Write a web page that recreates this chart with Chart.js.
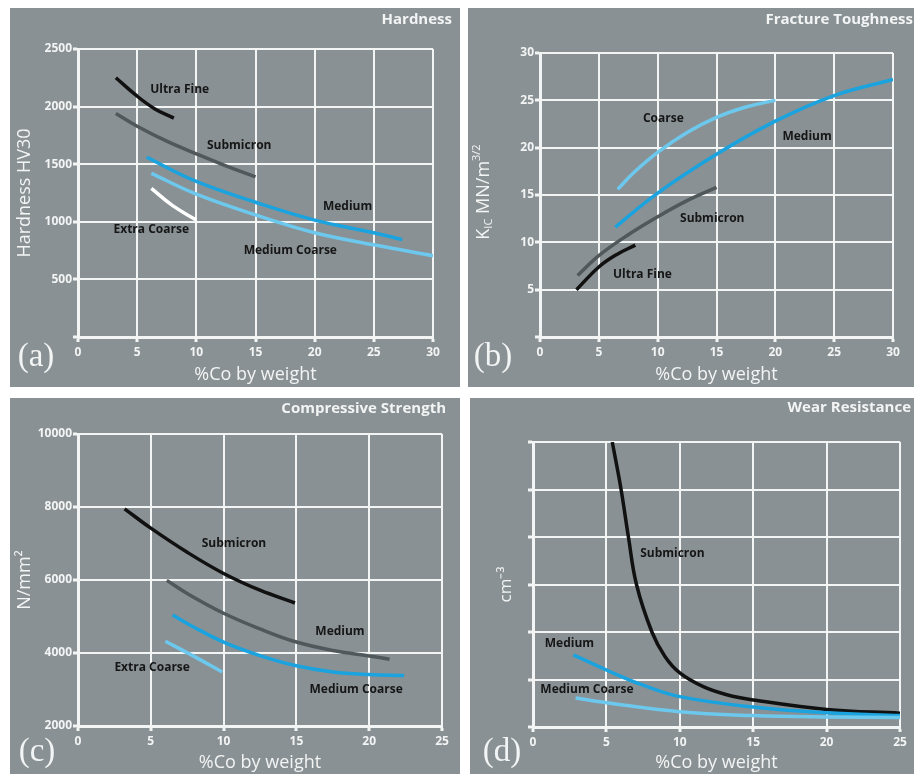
<!DOCTYPE html>
<html>
<head>
<meta charset="utf-8">
<script src="https://cdn.jsdelivr.net/npm/chart.js@4.4.1/dist/chart.umd.min.js"></script>
<style>
    body { margin: 0; background: #fff; width: 914px; height: 774px; position: relative; overflow: hidden; }
    .panel { position: absolute; background: #899194; }
    .panel canvas { display: block; }
</style>
</head>
<body>
<div class="panel" style="left:10px;top:8px;width:450px;height:379px"><canvas id="graficoDureza" width="450" height="379"></canvas></div>
<div class="panel" style="left:468px;top:8px;width:446px;height:379px"><canvas id="graficoTenacidad" width="446" height="379"></canvas></div>
<div class="panel" style="left:10px;top:398px;width:450px;height:376px"><canvas id="graficoCompresion" width="450" height="376"></canvas></div>
<div class="panel" style="left:470px;top:398px;width:444px;height:376px"><canvas id="graficoDesgaste" width="444" height="376"></canvas></div>
<script>
// (a) Hardness HV30
const durezaUltraFineX = [3.2, 5, 6.5, 8.1];
const durezaUltraFineY = [2250, 2090, 1980, 1900];
const durezaSubmicronX = [3.2, 5, 7.5, 10, 12.5, 15];
const durezaSubmicronY = [1940, 1830, 1700, 1590, 1485, 1390];
const durezaMediumX = [5.8, 10, 15, 20, 25, 27.4];
const durezaMediumY = [1560, 1350, 1170, 1015, 905, 845];
const durezaMedCoarseX = [6.2, 10, 15, 20, 25, 30];
const durezaMedCoarseY = [1420, 1240, 1060, 905, 800, 705];
const durezaExtraCoarseX = [6.2, 8, 10];
const durezaExtraCoarseY = [1290, 1140, 1015];

// (b) Fracture Toughness
const tenacidadCoarseX = [6.6, 8, 10, 12.5, 15, 17.5, 20];
const tenacidadCoarseY = [15.6, 17.4, 19.5, 21.6, 23.2, 24.3, 25];
const tenacidadMediumX = [6.4, 10, 15, 20, 25, 30];
const tenacidadMediumY = [11.6, 15.2, 19.3, 22.8, 25.5, 27.2];
const tenacidadSubmicronX = [3.2, 5, 7.5, 10, 12.5, 15];
const tenacidadSubmicronY = [6.5, 8.6, 10.8, 12.7, 14.4, 15.8];
const tenacidadUltraFineX = [3.1, 5, 6.5, 8.1];
const tenacidadUltraFineY = [5, 7.4, 8.7, 9.7];

// (c) Compressive Strength
const compresionSubmicronX = [3.2, 5, 7.5, 10, 12.5, 14.9];
const compresionSubmicronY = [7950, 7420, 6760, 6180, 5720, 5370];
const compresionMediumX = [6.1, 7.5, 10, 12.5, 15, 17.5, 20, 21.4];
const compresionMediumY = [5990, 5630, 5090, 4660, 4300, 4070, 3920, 3830];
const compresionMedCoarseX = [6.5, 8, 10, 12.5, 15, 17.5, 20, 22.4];
const compresionMedCoarseY = [5040, 4700, 4300, 3930, 3650, 3480, 3410, 3385];
const compresionExtraCoarseX = [6, 8, 9.9];
const compresionExtraCoarseY = [4320, 3900, 3480];

// (d) Wear Resistance
const desgasteSubmicronX = [5.4, 6, 6.5, 7.05, 8.1, 9, 10, 11.6, 13.2, 15, 20, 25];
const desgasteSubmicronY = [6, 5, 4, 3, 2, 1.48, 1.14, 0.85, 0.68, 0.57, 0.37, 0.29];
const desgasteMediumX = [2.75, 5, 7.5, 10, 15, 20, 25];
const desgasteMediumY = [1.52, 1.2, 0.88, 0.64, 0.42, 0.3, 0.24];
const desgasteMedCoarseX = [2.9, 5, 10, 15, 20, 25];
const desgasteMedCoarseY = [0.61, 0.51, 0.32, 0.24, 0.21, 0.2];

const BLANCO = '#f3f4f4';
const AZUL = '#1aa3de';
const CELESTE = '#6dc8ee';
const NEGRO = '#111111';
const GRIS_OSCURO = '#51585b';

// Convierte dos listas en puntos {x, y}
function serie(xs, ys, color) {
    return {
        data: xs.map((x, i) => ({ x: x, y: ys[i] })),
        borderColor: color,
        borderWidth: 3.5,
        pointRadius: 0,
        tension: 0.4, // curva suave
        fill: false
    };
}

// Textos: etiquetas de curvas, titulo del panel y letra
const pluginTextos = {
    id: 'textos',
    afterDatasetsDraw(chart, args, opts) {
        const ctx = chart.ctx;
        const sx = chart.scales.x;
        const sy = chart.scales.y;
        ctx.save();
        ctx.fillStyle = '#161616';
        ctx.font = 'bold 12px "Open Sans"';
        ctx.textAlign = 'left';
        ctx.textBaseline = 'middle';
        opts.etiquetas.forEach(e => {
            ctx.fillText(e.texto, sx.getPixelForValue(e.x), sy.getPixelForValue(e.y));
        });

        ctx.fillStyle = BLANCO;
        ctx.font = 'bold 15px "Open Sans"';
        ctx.textAlign = 'right';
        ctx.fillText(opts.titulo, opts.tituloX, opts.tituloY);

        ctx.font = '33px "Liberation Serif"';
        ctx.textAlign = 'center';
        ctx.fillText(opts.letra, opts.letraX, opts.letraY);

        // K_IC MN/m^3/2 con subindice y superindice
        if (opts.ejeRico) {
            const partes = [
                { t: 'K', f: '18px "Open Sans"', dy: 0 },
                { t: 'IC', f: '11px "Open Sans"', dy: 5 },
                { t: ' MN/m', f: '18px "Open Sans"', dy: 0 },
                { t: '3/2', f: '11px "Open Sans"', dy: -7 }
            ];
            let total = 0;
            partes.forEach(p => { ctx.font = p.f; p.w = ctx.measureText(p.t).width; total += p.w; });
            ctx.translate(opts.ejeRico.x, opts.ejeRico.y);
            ctx.rotate(-Math.PI / 2);
            ctx.textAlign = 'left';
            let pos = -total / 2;
            partes.forEach(p => {
                ctx.font = p.f;
                ctx.fillText(p.t, pos, p.dy);
                pos += p.w;
            });
        }
        ctx.restore();
    }
};

function crearPanel(id, cfg) {
    const fuenteTicks = { family: 'Open Sans', weight: 'bold', size: 12 };
    const ctx = document.getElementById(id).getContext('2d');
    return new Chart(ctx, {
        type: 'line',
        data: { datasets: cfg.series },
        options: {
            responsive: false,
            animation: false,
            events: [],
            layout: { padding: { left: 0, top: cfg.area.top, right: cfg.area.right, bottom: 0 } },
            scales: {
                x: {
                    type: 'linear',
                    min: 0,
                    max: cfg.xMax,
                    ticks: { stepSize: 5, color: BLANCO, font: fuenteTicks, padding: 3, maxRotation: 0 },
                    grid: { color: BLANCO, lineWidth: 2, tickLength: 5, tickWidth: 3, tickColor: BLANCO },
                    border: { color: BLANCO, width: 3 },
                    title: {
                        display: true,
                        text: '%Co by weight',
                        color: BLANCO,
                        font: { family: 'Open Sans', size: 18 },
                        padding: { top: 0, bottom: cfg.xTituloPad }
                    },
                    afterFit: s => { s.height = cfg.area.bottom; }
                },
                y: {
                    type: 'linear',
                    min: cfg.yMin,
                    max: cfg.yMax,
                    ticks: {
                        stepSize: cfg.yStep,
                        color: BLANCO,
                        font: fuenteTicks,
                        padding: 1,
                        callback: cfg.yEtiqueta
                    },
                    grid: { color: BLANCO, lineWidth: 2, tickLength: 5, tickWidth: 3, tickColor: BLANCO },
                    border: { color: BLANCO, width: 3 },
                    title: {
                        display: !!cfg.yTitulo,
                        text: cfg.yTitulo || '',
                        color: BLANCO,
                        font: { family: 'Open Sans', size: cfg.yTituloSize || 18 },
                        padding: { top: cfg.yTituloPad, bottom: 0 }
                    },
                    afterFit: s => { s.width = cfg.area.left; }
                }
            },
            plugins: {
                legend: { display: false },
                tooltip: { enabled: false },
                textos: cfg.textos
            }
        },
        plugins: [pluginTextos]
    });
}

document.addEventListener('DOMContentLoaded', function() {
    crearPanel('graficoDureza', {
        series: [
            serie(durezaMedCoarseX, durezaMedCoarseY, CELESTE),
            serie(durezaMediumX, durezaMediumY, AZUL),
            serie(durezaExtraCoarseX, durezaExtraCoarseY, '#ffffff'),
            serie(durezaSubmicronX, durezaSubmicronY, GRIS_OSCURO),
            serie(durezaUltraFineX, durezaUltraFineY, NEGRO)
        ],
        area: { left: 68, top: 41, right: 27, bottom: 50 },
        xMax: 30, yMin: 0, yMax: 2500, yStep: 500,
        yEtiqueta: v => v === 0 ? '' : String(v),
        yTitulo: 'Hardness HV30', yTituloPad: 4, xTituloPad: 1,
        textos: {
            titulo: 'Hardness', tituloX: 442, tituloY: 12,
            letra: '(a)', letraX: 26, letraY: 349,
            etiquetas: [
                { texto: 'Ultra Fine', x: 6.1, y: 2150 },
                { texto: 'Submicron', x: 10.9, y: 1660 },
                { texto: 'Medium', x: 20.7, y: 1128 },
                { texto: 'Extra Coarse', x: 3.0, y: 929 },
                { texto: 'Medium Coarse', x: 14.0, y: 747 }
            ]
        }
    });

    crearPanel('graficoTenacidad', {
        series: [
            serie(tenacidadCoarseX, tenacidadCoarseY, CELESTE),
            serie(tenacidadMediumX, tenacidadMediumY, AZUL),
            serie(tenacidadSubmicronX, tenacidadSubmicronY, GRIS_OSCURO),
            serie(tenacidadUltraFineX, tenacidadUltraFineY, NEGRO)
        ],
        area: { left: 72, top: 45, right: 21, bottom: 50 },
        xMax: 30, yMin: 0, yMax: 30, yStep: 5,
        yEtiqueta: v => v === 0 ? '' : String(v),
        yTitulo: null, yTituloPad: 0, xTituloPad: 1,
        textos: {
            titulo: 'Fracture Toughness', tituloX: 445, tituloY: 12,
            letra: '(b)', letraX: 25, letraY: 349,
            ejeRico: { x: 16, y: 184 },
            etiquetas: [
                { texto: 'Coarse', x: 8.75, y: 23.1 },
                { texto: 'Medium', x: 20.6, y: 21.2 },
                { texto: 'Submicron', x: 11.9, y: 12.5 },
                { texto: 'Ultra Fine', x: 6.2, y: 6.6 }
            ]
        }
    });

    crearPanel('graficoCompresion', {
        series: [
            serie(compresionExtraCoarseX, compresionExtraCoarseY, CELESTE),
            serie(compresionMedCoarseX, compresionMedCoarseY, AZUL),
            serie(compresionMediumX, compresionMediumY, GRIS_OSCURO),
            serie(compresionSubmicronX, compresionSubmicronY, NEGRO)
        ],
        area: { left: 68, top: 36, right: 18, bottom: 48 },
        xMax: 25, yMin: 2000, yMax: 10000, yStep: 2000,
        yEtiqueta: v => String(v),
        yTitulo: 'N/mm\u00B2', yTituloPad: 4, xTituloPad: 0,
        textos: {
            titulo: 'Compressive Strength', tituloX: 436, tituloY: 11,
            letra: '(c)', letraX: 27, letraY: 354,
            etiquetas: [
                { texto: 'Submicron', x: 8.5, y: 7000 },
                { texto: 'Medium', x: 16.3, y: 4600 },
                { texto: 'Extra Coarse', x: 2.5, y: 3600 },
                { texto: 'Medium Coarse', x: 15.9, y: 2990 }
            ]
        }
    });

    crearPanel('graficoDesgaste', {
        series: [
            serie(desgasteMedCoarseX, desgasteMedCoarseY, CELESTE),
            serie(desgasteMediumX, desgasteMediumY, AZUL),
            serie(desgasteSubmicronX, desgasteSubmicronY, NEGRO)
        ],
        area: { left: 63, top: 44, right: 14, bottom: 47 },
        xMax: 25, yMin: 0, yMax: 6, yStep: 1,
        yEtiqueta: () => '',
        yTitulo: 'cm\u207B\u00B3', yTituloPad: 26, yTituloSize: 17, xTituloPad: 0,
        textos: {
            titulo: 'Wear Resistance', tituloX: 441, tituloY: 10,
            letra: '(d)', letraX: 32, letraY: 354,
            etiquetas: [
                { texto: 'Submicron', x: 7.3, y: 3.66 },
                { texto: 'Medium', x: 0.8, y: 1.75 },
                { texto: 'Medium Coarse', x: 0.5, y: 0.78 }
            ]
        }
    });
});
</script>
</body>
</html>
